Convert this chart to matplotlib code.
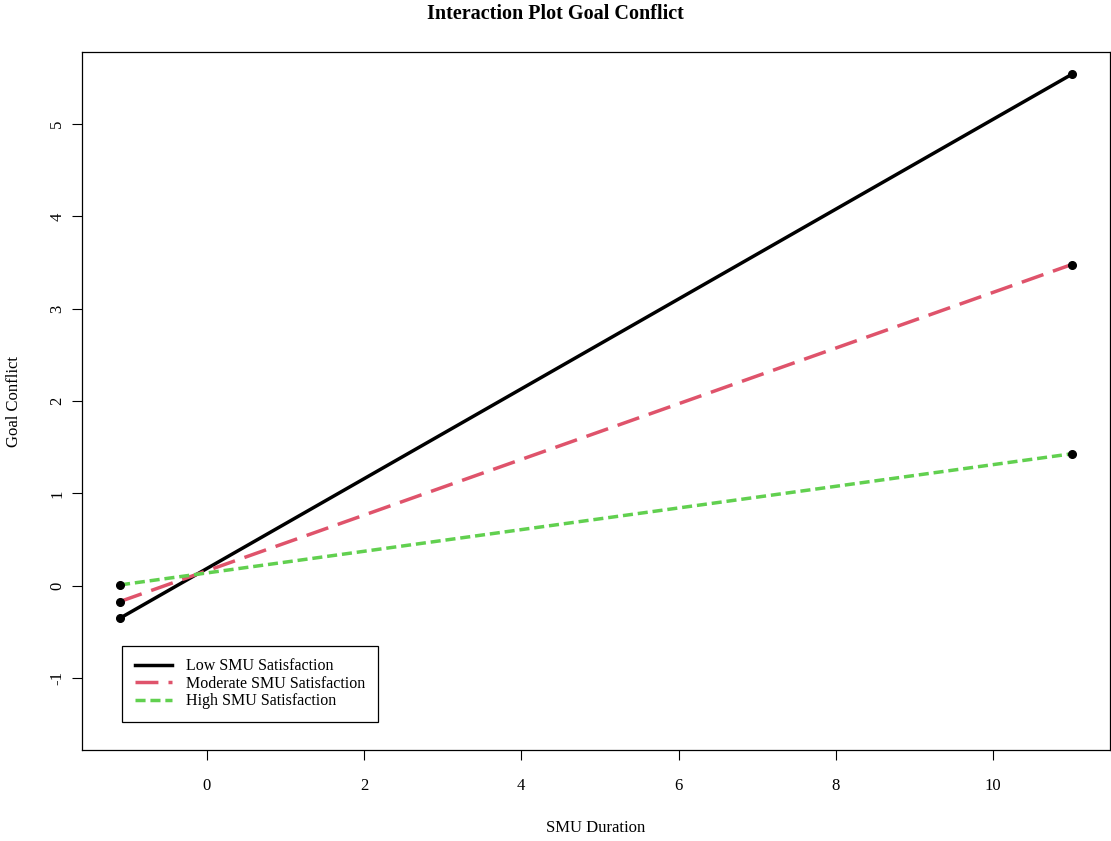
import matplotlib
matplotlib.use('Agg')
import matplotlib.pyplot as plt
from matplotlib.lines import Line2D

# SMU Duration at low / high end
duration = [-1.1, 11.0]

# predicted goal conflict for each satisfaction level
low_sat = [-0.35, 5.54]
moderate_sat = [-0.17, 3.48]
high_sat = [0.01, 1.43]

series_names = ['Low SMU Satisfaction', 'Moderate SMU Satisfaction', 'High SMU Satisfaction']
x_ticks = [0, 2, 4, 6, 8, 10]
y_ticks = [-1, 0, 1, 2, 3, 4, 5]

plt.rcParams['font.family'] = ['Liberation Serif', 'DejaVu Serif']

fig = plt.figure(figsize=(11.11, 8.41), dpi=100)
ax = fig.add_axes([0.0738, 0.108, 0.9252, 0.830])

lw = 2.5
styles = [
    dict(color='black', linestyle='-'),
    dict(color='#DF536B', linestyle=(0, (6.6, 2.9))),
    dict(color='#61D04F', linestyle=(0, (2.9, 1.4))),
]
for ys, st in zip([low_sat, moderate_sat, high_sat], styles):
    ax.plot(duration, ys, linewidth=lw, **st)
    ax.plot(duration, ys, 'o', color='black', markersize=5.5, zorder=3)

# R style 4% padding around data range
xr = duration[1] - duration[0]
ax.set_xlim(duration[0] - 0.04 * xr, duration[1] + 0.04 * xr)
ax.set_ylim(-1.5 - 0.04 * 7, 5.5 + 0.04 * 7)

ax.set_xticks(x_ticks)
ax.set_yticks(y_ticks)
ax.set_yticklabels([str(v) for v in y_ticks], rotation=90, va='center')
ax.tick_params(axis='x', length=7, width=0.8, labelsize=12, pad=13)
ax.tick_params(axis='y', length=7, width=0.8, labelsize=12, pad=5)
for sp in ax.spines.values():
    sp.set_linewidth(0.9)

ax.set_xlabel('SMU Duration', fontsize=12, labelpad=19)
ax.set_ylabel('Goal Conflict', fontsize=12, labelpad=20)
fig.suptitle('Interaction Plot Goal Conflict', fontsize=14.5, fontweight='bold', y=0.995, va='top')

handles = [Line2D([0], [0], linewidth=lw, **st) for st in styles]
leg = ax.legend(handles, series_names, loc='lower left', bbox_to_anchor=(0.039, 0.040),
                borderaxespad=0, fancybox=False, fontsize=11.5, handlelength=2.3,
                handletextpad=0.9, borderpad=0.8, labelspacing=0.1, framealpha=1)
leg.get_frame().set_edgecolor('black')
leg.get_frame().set_linewidth(0.9)

fig.savefig('out.png', dpi=100)
